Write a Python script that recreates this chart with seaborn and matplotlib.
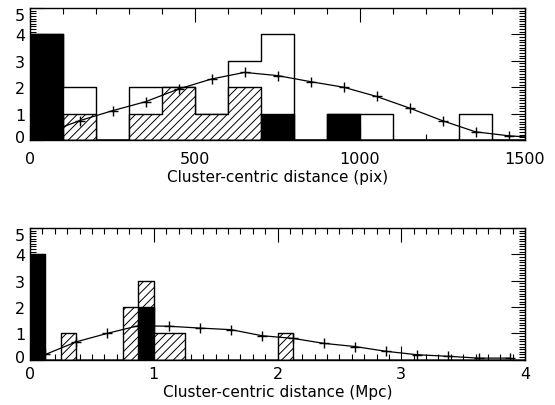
import numpy as np
import pandas as pd
import matplotlib
matplotlib.use("Agg")
import matplotlib.pyplot as plt
import matplotlib.transforms as mtransforms
import seaborn as sns
from matplotlib.ticker import MultipleLocator

sns.set_theme(style="white")
plt.rcParams["font.family"] = ["DejaVu Sans"]
plt.rcParams["hatch.linewidth"] = 0.7

# --- Upper panel: distances in pixels (bins of 100 pix) ---
pix_bins = [0, 100, 200, 300, 400, 500, 600, 700, 800, 900, 1000, 1100, 1200, 1300, 1400]
pix_total = [4, 2, 0, 2, 2, 1, 3, 4, 0, 1, 1, 0, 0, 1, 0]
pix_hatched = [0, 1, 0, 1, 2, 1, 2, 0, 0, 0, 0, 0, 0, 0, 0]
pix_black = [4, 0, 0, 0, 0, 0, 0, 1, 0, 1, 0, 0, 0, 0, 0]
pix_curve_x = [50, 150, 250, 350, 450, 550, 650, 750, 850, 950, 1050, 1150, 1250, 1350, 1450, 1500]
pix_curve_y = [0.27, 0.73, 1.11, 1.45, 1.93, 2.31, 2.56, 2.44, 2.21, 2.00, 1.65, 1.21, 0.73, 0.31, 0.16, 0.12]

# --- Lower panel: distances in Mpc (bins of 0.125 Mpc) ---
mpc_bins = [0.0, 0.125, 0.25, 0.375, 0.5, 0.625, 0.75, 0.875, 1.0, 1.125, 1.25, 1.375,
            1.5, 1.625, 1.75, 1.875, 2.0, 2.125, 2.25, 2.375, 2.5, 2.625, 2.75, 2.875,
            3.0, 3.125, 3.25, 3.375, 3.5, 3.625, 3.75, 3.875]
mpc_hatched = [0, 0, 1, 0, 0, 0, 2, 3, 1, 1, 0, 0, 0, 0, 0, 0, 1, 0, 0, 0, 0, 0, 0, 0,
               0, 0, 0, 0, 0, 0, 0, 0]
mpc_black = [4, 0, 0, 0, 0, 0, 0, 2, 0, 0, 0, 0, 0, 0, 0, 0, 0, 0, 0, 0, 0, 0, 0, 0,
             0, 0, 0, 0, 0, 0, 0, 0]
mpc_curve_x = [0.125, 0.375, 0.625, 0.875, 1.125, 1.375, 1.625, 1.875, 2.125, 2.375,
               2.625, 2.875, 3.125, 3.375, 3.625, 3.875]
mpc_curve_y = [0.20, 0.68, 1.00, 1.29, 1.27, 1.20, 1.14, 0.91, 0.81, 0.62, 0.50, 0.32,
               0.19, 0.13, 0.06, 0.06]

x_ticks_pix = [0, 500, 1000, 1500]
x_ticks_mpc = [0, 1, 2, 3, 4]
y_ticks = [0, 1, 2, 3, 4, 5]

W, H = 555, 406
fig = plt.figure(figsize=(W / 100, H / 100), dpi=100)
ax1 = fig.add_axes([30 / W, 1 - 141 / H, 495 / W, 132 / H])
ax2 = fig.add_axes([30 / W, 1 - 360.7 / H, 495 / W, 131.7 / H])

TICK_FS = 11.5
LABEL_FS = 11


def hist(ax, starts, counts, width, rng, **kw):
    df = pd.DataFrame({"x": np.asarray(starts) + width / 2, "w": counts})
    sns.histplot(data=df, x="x", weights="w", binwidth=width, binrange=rng,
                 element="step", fill=True, ax=ax, linewidth=1.0, alpha=1,
                 color="black", **kw)


def panel(ax, starts, width, rng, total, hatched, black, cx, cy, nmark, xlabel,
          xticks, minor, xpad, label_top_px, axis_bottom_px, axis_h_px):
    if total is not None:
        hist(ax, starts, total, width, rng, facecolor="none", edgecolor="black", zorder=3)
    hist(ax, starts, hatched, width, rng, facecolor="white", edgecolor="black",
         hatch="////", zorder=3.2)
    sns.lineplot(x=cx, y=cy, ax=ax, color="black", linewidth=0.9, marker="+",
                 markersize=7, markeredgewidth=1.0, markeredgecolor="black",
                 markevery=list(range(nmark)), zorder=3.4, sort=False)
    hist(ax, starts, black, width, rng, facecolor="black", edgecolor="black", zorder=3.6)

    ax.set_xlim(rng)
    ax.set_ylim(0, 5)
    ax.set_xticks(xticks)
    ax.set_xticklabels([str(t) for t in xticks])
    ax.xaxis.set_minor_locator(MultipleLocator(minor))
    ax.set_yticks(y_ticks)
    ax.set_yticklabels([str(t) for t in y_ticks])
    ax.yaxis.set_minor_locator(MultipleLocator(0.1))
    ax.tick_params(which="both", direction="in", top=True, right=True, bottom=True,
                   left=True, color="black", width=0.8, labelsize=TICK_FS,
                   labelcolor="black")
    ax.tick_params(which="major", length=10)
    ax.tick_params(which="minor", length=4)
    ax.tick_params(axis="x", which="major", pad=xpad)
    ax.tick_params(axis="y", which="major", pad=3.5)
    for s in ax.spines.values():
        s.set_color("black")
        s.set_linewidth(1.0)
        s.set_visible(True)
    ax.set_ylabel("")
    ax.set_xlabel(xlabel, fontsize=LABEL_FS, color="black", va="top")
    ax.xaxis.set_label_coords(0.5, (axis_bottom_px - label_top_px) / axis_h_px)
    ax.grid(False)
    ax.set_facecolor("white")

    # keep the end labels inside the frame, shifting them toward the middle
    labels = ax.get_yticklabels()
    labels[-1].set_transform(labels[-1].get_transform() +
                             mtransforms.ScaledTranslation(0, -6 / 100, fig.dpi_scale_trans))
    labels[0].set_transform(labels[0].get_transform() +
                            mtransforms.ScaledTranslation(0, 4 / 100, fig.dpi_scale_trans))


panel(ax1, pix_bins, 100, (0, 1500), pix_total, pix_hatched, pix_black,
      pix_curve_x, pix_curve_y, 15, "Cluster-centric distance (pix)",
      x_ticks_pix, 100, 8, 170, 141, 132)

panel(ax2, mpc_bins, 0.125, (0, 4), None, mpc_hatched, mpc_black,
      mpc_curve_x, mpc_curve_y, 16, "Cluster-centric distance (Mpc)",
      x_ticks_mpc, 0.1, 4.5, 385, 360.7, 131.7)

fig.savefig("out.png", dpi=100, facecolor="white")
